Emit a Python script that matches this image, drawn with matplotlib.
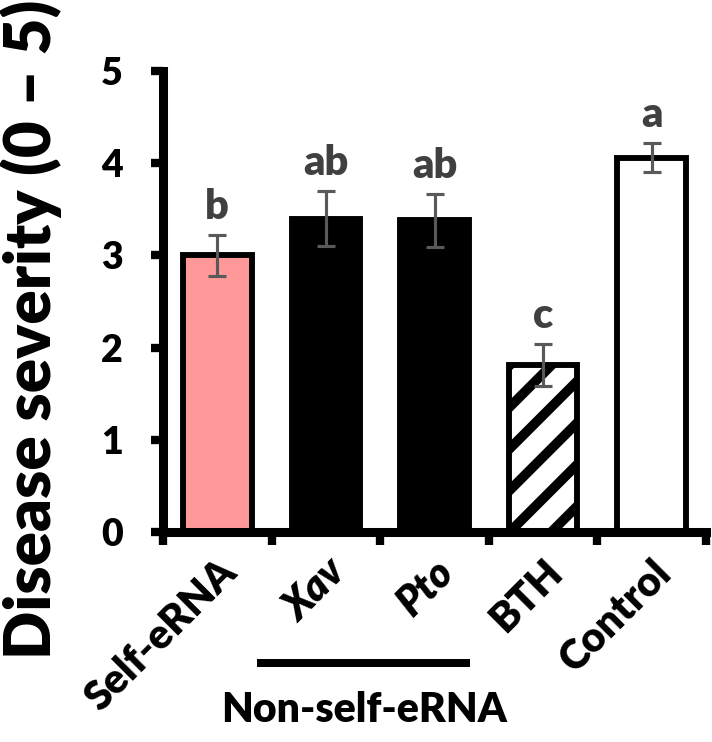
import matplotlib
matplotlib.use('Agg')
import matplotlib.pyplot as plt
import matplotlib.transforms as mtransforms
import numpy as np

######################## data #################################################
treatments = ['Self-eRNA', 'Xav', 'Pto', 'BTH', 'Control']
italic_labels = ['Xav', 'Pto']
severity = [3.00, 3.40, 3.38, 1.81, 4.06]
sem = [0.22, 0.30, 0.29, 0.23, 0.16]
letters = ['b', 'ab', 'ab', 'c', 'a']
group_label = 'Non-self-eRNA'
ylabel = 'Disease severity (0 \u2013 5)'
yticks = [0, 1, 2, 3, 4, 5]
######################## data #################################################

DPI = 250  # fixed dpi so the hatch spacing comes out like the original
W = 'heavy'
plt.rcParams['font.family'] = ['Lato', 'DejaVu Sans']
plt.rcParams['font.weight'] = W
plt.rcParams['hatch.linewidth'] = 2.8

fig = plt.figure(figsize=(712 / DPI, 742 / DPI), dpi=DPI)
ax = fig.add_axes([163 / 712, 1 - 532 / 742, 543 / 712, 461 / 742])

x = np.arange(len(treatments))
faces = ['#FF9999', 'black', 'black', 'white', 'white']
hatches = ['', '', '', '//', '']
bars = ax.bar(x, severity, width=0.63, color=faces, edgecolor='black',
              linewidth=1.7, zorder=2)
for b, h in zip(bars, hatches):
    b.set_hatch(h)

ax.errorbar(x, severity, yerr=sem, fmt='none', ecolor='#595959',
            elinewidth=0.9, capsize=2.6, capthick=0.9, zorder=3)

# significance letters above the error bars
for xi, v, e, lab in zip(x, severity, sem, letters):
    ax.annotate(lab, (xi, v + e), xytext=(0, 4.5), textcoords='offset points',
                ha='center', va='baseline', fontsize=12, color='#404040',
                fontweight=W)

ax.set_xlim(-0.5, len(treatments) - 0.5)
ax.set_ylim(0, 5)
ax.set_yticks(yticks)
ax.set_yticklabels([str(t) for t in yticks], fontsize=10.8, fontweight=W)

# ticks sit between the bars, labels sit under the bars
ax.set_xticks(np.arange(len(treatments) + 1) - 0.5)
ax.set_xticklabels([])
ax.set_xticks(x, minor=True)
ax.set_xticklabels(treatments, minor=True, rotation=45, ha='right',
                   rotation_mode='anchor', fontsize=11.8, fontweight=W)
for t in ax.xaxis.get_minorticklabels():
    if t.get_text() in italic_labels:
        t.set_fontstyle('italic')
    t.set_transform(t.get_transform() +
                    mtransforms.ScaledTranslation(14 / DPI, -10 / DPI, fig.dpi_scale_trans))

ax.tick_params(axis='x', which='minor', length=0, pad=6)
ax.tick_params(axis='both', which='major', direction='out', length=3.6,
               width=2.4, color='black')
ax.tick_params(axis='y', pad=8)

for side in ['top', 'right']:
    ax.spines[side].set_visible(False)
for side in ['left', 'bottom']:
    ax.spines[side].set_linewidth(2.6)

# bracket line + group label under Xav and Pto
trans = mtransforms.blended_transform_factory(ax.transData, fig.transFigure)
ax.plot([0.366, 2.33], [1 - 663 / 742] * 2, transform=trans, color='black',
        linewidth=2.3, clip_on=False, solid_capstyle='butt')
fig.text(364 / 712, 1 - 710 / 742, group_label, ha='center', va='center',
         fontsize=11.8, fontweight=W)

fig.text(31 / 712, 1 - 329 / 742, ylabel, rotation=90, ha='center',
         va='center', fontsize=18.3, fontweight=W)

fig.savefig('out.png', dpi=DPI)
